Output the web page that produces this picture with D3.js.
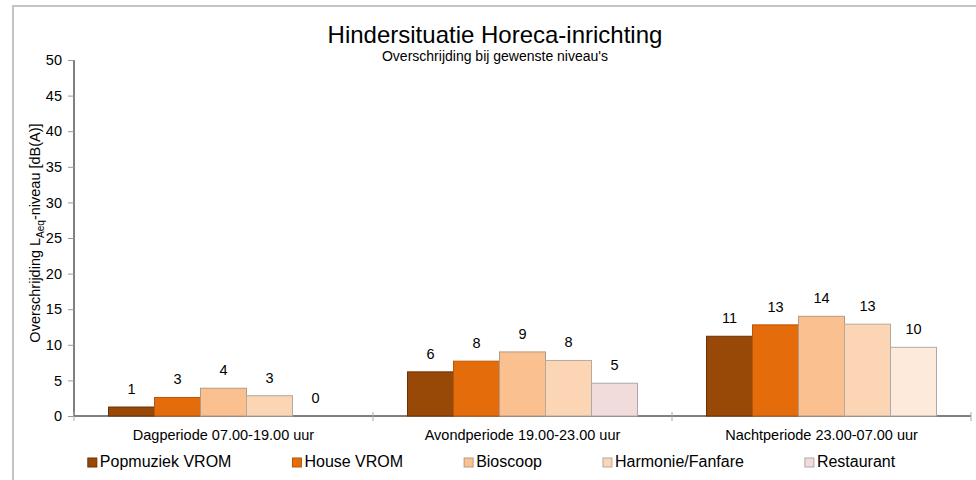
<!DOCTYPE html>
<html>
<head>
<meta charset="utf-8">
<script src="https://cdn.jsdelivr.net/npm/d3@7"></script>
<style>
  body { margin: 0; background: #fff; }
  text { font-family: "Liberation Sans", Arial, sans-serif; fill: #000; }
</style>
</head>
<body>
<div id="chart"></div>
<script>
'use strict'

////////////////////////////////////
/////////////// data ///////////////
////////////////////////////////////

const categories = ['Dagperiode 07.00-19.00 uur', 'Avondperiode 19.00-23.00 uur', 'Nachtperiode 23.00-07.00 uur']
const seriesNames = ['Popmuziek VROM', 'House VROM', 'Bioscoop', 'Harmonie/Fanfare', 'Restaurant']
const popmuziek = [1.26, 6.2, 11.2]
const house = [2.6, 7.7, 12.8]
const bioscoop = [3.9, 9.0, 14.0]
const harmonie = [2.85, 7.8, 12.9]
const restaurant = [0, 4.6, 9.65]
const labels = [[1, 6, 11], [3, 8, 13], [4, 9, 14], [3, 8, 13], [0, 5, 10]]
const yTicks = [0, 5, 10, 15, 20, 25, 30, 35, 40, 45, 50]
const fills = ['#984807', '#e46c0a', '#fac090', '#fcd5b5', '#f2dcdb']
const strokes = ['#6a3204', '#b5560a', '#b39a86', '#b5aaa0', '#aaaaaa']
// the night restaurant bar has its own lighter fill
const restaurantFills = ['#f2dcdb', '#f2dcdb', '#fdeada']

const values = [popmuziek, house, bioscoop, harmonie, restaurant]

////////////////////////////////////
//////////// svg setup /////////////
////////////////////////////////////

const W = 976, H = 480
const svg = d3.select('#chart').append('svg')
    .attr('width', W).attr('height', H)

// outer frame (runs off the right and bottom edge)
svg.append('rect')
    .attr('x', 13).attr('y', 6)
    .attr('width', 1000).attr('height', 520)
    .attr('fill', 'none')
    .attr('stroke', '#c4c4c4')
    .attr('stroke-width', 2)

const plot = {left: 74, right: 971, top: 60, bottom: 416}

////////////////////////////////////
////////////// scales //////////////
////////////////////////////////////

const x0 = d3.scaleBand()
    .domain(categories)
    .range([plot.left, plot.right])

const x1 = d3.scaleBand()
    .domain(d3.range(seriesNames.length))
    .range([34.5, x0.bandwidth() - 34.5])

const y = d3.scaleLinear()
    .domain([0, 50])
    .range([plot.bottom, plot.top])

////////////////////////////////////
////////////// titles //////////////
////////////////////////////////////

svg.append('text')
    .attr('x', 495).attr('y', 43)
    .attr('text-anchor', 'middle')
    .style('font-size', '24px')
    .text('Hindersituatie Horeca-inrichting')

svg.append('text')
    .attr('x', 495).attr('y', 61)
    .attr('text-anchor', 'middle')
    .style('font-size', '14px')
    .text("Overschrijding bij gewenste niveau's")

const yl = svg.append('text')
    .attr('transform', 'translate(40,233) rotate(-90)')
    .attr('text-anchor', 'middle')
    .style('font-size', '14.5px')
yl.append('tspan').text('Overschrijding L')
yl.append('tspan').attr('dy', 4).style('font-size', '10px').text('Aeq')
yl.append('tspan').attr('dy', -4).text('-niveau [dB(A)]')

////////////////////////////////////
/////////////// axes ///////////////
////////////////////////////////////

const yAxis = svg.append('g')
    .attr('transform', `translate(${plot.left},0)`)
    .call(d3.axisLeft(y).tickValues(yTicks).tickSize(6).tickPadding(6))
yAxis.select('.domain').attr('stroke', '#000').attr('d', `M0,${plot.top}V${plot.bottom}`)
yAxis.selectAll('.tick line').attr('stroke', '#999')
yAxis.selectAll('.tick text')
    .style('font-size', '14.5px')
    .attr('font-family', null)

const xAxis = svg.append('g')
    .attr('transform', `translate(0,${plot.bottom})`)
    .call(d3.axisBottom(x0).tickSize(0).tickPadding(14))
xAxis.select('.domain').attr('stroke', '#000').attr('d', `M${plot.left},0H${plot.right}`)
xAxis.selectAll('.tick text')
    .style('font-size', '14.5px')
    .attr('font-family', null)

// category separators
const bounds = categories.map(c => x0(c)).concat([x0.range()[1]])
svg.selectAll('.sep')
    .data(bounds)
    .join('line')
    .attr('class', 'sep')
    .attr('x1', d => d).attr('x2', d => d)
    .attr('y1', plot.bottom - 4).attr('y2', plot.bottom + 5)
    .attr('stroke', '#aaa')

////////////////////////////////////
/////////////// bars ///////////////
////////////////////////////////////

const rows = []
values.forEach((arr, s) => {
    arr.forEach((v, c) => {
        rows.push({s: s, c: c, v: v, label: labels[s][c]})
    })
})

const groups = svg.selectAll('.grp')
    .data(rows)
    .join('g')
    .attr('class', 'grp')
    .attr('transform', d => `translate(${x0(categories[d.c])},0)`)

groups.filter(d => d.v > 0).append('rect')
    .attr('x', d => x1(d.s))
    .attr('width', x1.bandwidth())
    .attr('y', d => y(d.v))
    .attr('height', d => y(0) - y(d.v))
    .attr('fill', d => d.s === 4 ? restaurantFills[d.c] : fills[d.s])
    .attr('stroke', d => strokes[d.s])
    .attr('stroke-width', 1)

groups.append('text')
    .attr('x', d => x1(d.s) + x1.bandwidth() / 2)
    .attr('y', d => y(d.v) - 13)
    .attr('text-anchor', 'middle')
    .style('font-size', '14.5px')
    .text(d => d.label)

////////////////////////////////////
////////////// legend //////////////
////////////////////////////////////

const legend = svg.append('g')
const items = legend.selectAll('.item')
    .data(seriesNames)
    .join('g')
    .attr('class', 'item')

items.append('rect')
    .attr('x', 0).attr('y', 458)
    .attr('width', 9).attr('height', 9)
    .attr('fill', (d, i) => fills[i])
    .attr('stroke', (d, i) => strokes[i])

items.append('text')
    .attr('x', 12).attr('y', 467)
    .style('font-size', '16px')
    .text(d => d)

let pos = 0
const offsets = []
items.each(function (d, i) {
    const w = 12 + this.querySelector('text').getComputedTextLength()
    offsets.push(pos)
    pos += w + 61
})
const total = pos - 61
const start = 491.5 - total / 2
items.attr('transform', (d, i) => `translate(${start + offsets[i]},0)`)
</script>
</body>
</html>
